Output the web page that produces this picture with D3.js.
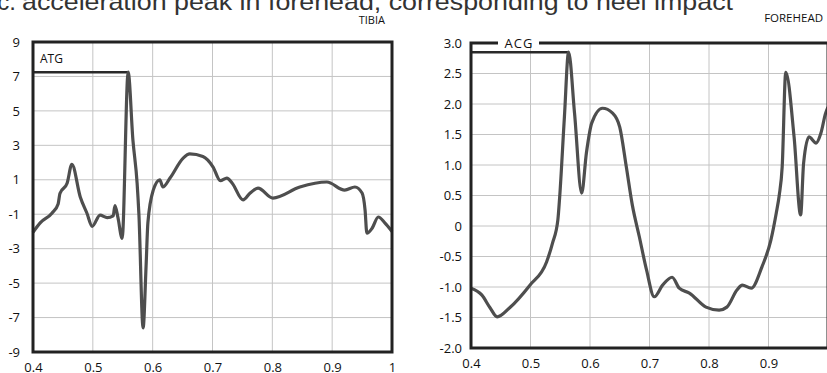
<!DOCTYPE html>
<html>
<head>
<meta charset="utf-8">
<script src="https://cdn.jsdelivr.net/npm/d3@7"></script>
<style>
  body { margin: 0; background: #fff; }
  svg { display: block; }
</style>
</head>
<body>
<div id="chart"></div>
<script>
// Tibia (ATG) trace: time and acceleration
const tibiaTime = [0.400, 0.412, 0.432, 0.442, 0.445, 0.457, 0.465, 0.479, 0.490, 0.499,
    0.512, 0.524, 0.534, 0.537, 0.542, 0.549, 0.559, 0.567, 0.574, 0.577,
    0.584, 0.589, 0.592, 0.601, 0.612, 0.617, 0.629, 0.651, 0.662, 0.684,
    0.701, 0.713, 0.724, 0.733, 0.751, 0.763, 0.776, 0.801, 0.846, 0.891,
    0.921, 0.938, 0.950, 0.955, 0.958, 0.967, 0.977, 0.988, 1.000];
const tibiaAcc = [-2.05, -1.5, -0.93, -0.4, 0.2, 0.8, 1.9, 0.0, -0.93, -1.7,
    -1.05, -1.2, -1.1, -0.5, -1.2, -2.4, 7.25, 3.3, 0.8, -1.0,
    -7.6, -4.0, -1.5, 0.4, 1.0, 0.58, 1.1, 2.26, 2.5, 2.35,
    1.74, 0.95, 1.1, 0.8, -0.17, 0.23, 0.52, -0.06, 0.58, 0.87,
    0.4, 0.58, 0.23, -0.76, -2.1, -1.8, -1.16, -1.5, -2.0];

// Forehead (ACG) trace
const foreheadTime = [0.400, 0.418, 0.432, 0.444, 0.465, 0.499, 0.527, 0.537, 0.546, 0.549,
    0.557, 0.564, 0.574, 0.586, 0.594, 0.603, 0.621, 0.638, 0.650, 0.661,
    0.671, 0.683, 0.695, 0.708, 0.722, 0.738, 0.750, 0.767, 0.795, 0.817,
    0.830, 0.847, 0.856, 0.871, 0.889, 0.904, 0.913, 0.918, 0.923, 0.929,
    0.943, 0.954, 0.959, 0.968, 0.980, 0.988, 0.996, 1.000];
const foreheadAcc = [-1.02, -1.13, -1.34, -1.49, -1.34, -0.97, -0.59, -0.28, 0.1, 0.47,
    1.79, 2.85, 1.85, 0.54, 1.2, 1.69, 1.93, 1.85, 1.62, 0.97,
    0.35, -0.18, -0.72, -1.16, -0.97, -0.84, -1.02, -1.1, -1.33, -1.38,
    -1.33, -1.05, -0.97, -1.02, -0.67, -0.23, 0.21, 0.5, 0.97, 2.52,
    1.46, 0.18, 1.03, 1.46, 1.36, 1.52, 1.85, 1.95];

// Tick labels
const xTicks = [0.4, 0.5, 0.6, 0.7, 0.8, 0.9, 1];
const tibiaTicks = [9, 7, 5, 3, 1, -1, -3, -5, -7, -9];
const foreheadTicks = [3.0, 2.5, 2.0, 1.5, 1.0, 0.5, 0, -0.5, -1.0, -1.5, -2.0];

// Peak reference markers
const tibiaPeak = { t: 0.559, v: 7.25 };
const foreheadPeak = { t: 0.564, v: 2.85 };

const svgWidth = 827;
const svgHeight = 373;

const svg = d3.select("#chart")
    .append("svg")
    .attr("width", svgWidth)
    .attr("height", svgHeight)
    .style("font-family", "'Open Sans', sans-serif");

// Title (cut off at the top in the source)
svg.append("text")
    .attr("x", 16)
    .attr("y", 10)
    .attr("text-anchor", "end")
    .attr("font-family", "'Liberation Sans', Arial, sans-serif")
    .attr("font-size", 24)
    .attr("fill", "#333")
    .text("bc.");

svg.append("text")
    .attr("x", 22)
    .attr("y", 10)
    .attr("font-family", "'Liberation Sans', Arial, sans-serif")
    .attr("font-size", 24)
    .attr("fill", "#333")
    .attr("textLength", 711)
    .attr("lengthAdjust", "spacingAndGlyphs")
    .text("acceleration peak in forehead, corresponding to heel impact");

// plain hyphen for negatives, like the source
const hyphen = s => s.replace("\u2212", "-");

function drawPanel(opts) {
    const x = d3.scaleLinear().domain([0.4, 1]).range([opts.left, opts.right]);
    const y = d3.scaleLinear().domain(opts.yDomain).range([opts.bottom, opts.top]);
    const g = svg.append("g");

    // Grid
    g.selectAll(".vgrid")
        .data(xTicks.slice(1, -1))
        .join("line")
        .attr("x1", d => x(d)).attr("x2", d => x(d))
        .attr("y1", opts.top).attr("y2", opts.bottom)
        .attr("stroke", "#c4c4c4")
        .attr("stroke-width", 1);

    g.selectAll(".hgrid")
        .data(opts.yTicks.slice(1, -1))
        .join("line")
        .attr("x1", opts.left).attr("x2", opts.right)
        .attr("y1", d => y(d)).attr("y2", d => y(d))
        .attr("stroke", "#c4c4c4")
        .attr("stroke-width", 1);

    // Axes labels
    const xAxis = d3.axisBottom(x)
        .tickValues(opts.xLabels)
        .tickFormat(d => d === 1 ? "1" : d3.format(".1f")(d))
        .tickSize(0)
        .tickPadding(0);
    g.append("g")
        .attr("transform", `translate(0, ${opts.bottom + 11})`)
        .call(xAxis)
        .call(a => a.select(".domain").remove())
        .selectAll("text")
        .attr("font-size", 13)
        .attr("fill", "#111")
        .attr("dy", "0.71em")
        .style("font-family", "'Open Sans', sans-serif");

    const yAxis = d3.axisLeft(y)
        .tickValues(opts.yTicks)
        .tickFormat(d => hyphen(opts.yFormat(d)))
        .tickSize(0)
        .tickPadding(0);
    g.append("g")
        .attr("transform", `translate(${opts.labelRight}, 0)`)
        .call(yAxis)
        .call(a => a.select(".domain").remove())
        .selectAll("text")
        .attr("font-size", 13)
        .attr("fill", "#111")
        .style("font-family", "'Open Sans', sans-serif");

    // Peak reference line
    g.append("path")
        .attr("d", `M${opts.left},${y(opts.peak.v)}H${x(opts.peak.t)}`)
        .attr("fill", "none")
        .attr("stroke", "#2a2a2a")
        .attr("stroke-width", 2.5);

    // Trace
    const pts = opts.time.map((t, i) => [t, opts.acc[i]]);
    g.append("path")
        .datum(pts)
        .attr("d", d3.line()
            .x(d => x(d[0]))
            .y(d => y(d[1]))
            .curve(d3.curveMonotoneX))
        .attr("fill", "none")
        .attr("stroke", "#4e4e4e")
        .attr("stroke-width", 3.2)
        .attr("stroke-linejoin", "round");

    return { g, x, y };
}

// Left panel: TIBIA
const tibia = drawPanel({
    left: 33, right: 392, top: 42, bottom: 352, labelRight: 20,
    yDomain: [-9, 9], yTicks: tibiaTicks, yFormat: d3.format("d"),
    xLabels: xTicks,
    time: tibiaTime, acc: tibiaAcc, peak: tibiaPeak
});

tibia.g.append("rect")
    .attr("x", 33).attr("y", 42)
    .attr("width", 359).attr("height", 310)
    .attr("fill", "none")
    .attr("stroke", "#222")
    .attr("stroke-width", 3);

tibia.g.append("text")
    .attr("x", 40).attr("y", 63)
    .attr("font-size", 12)
    .attr("fill", "#111")
    .text("ATG");

svg.append("text")
    .attr("x", 385).attr("y", 24)
    .attr("text-anchor", "end")
    .attr("font-size", 11)
    .attr("fill", "#111")
    .text("TIBIA");

// Right panel: FOREHEAD (the 1.0 edge falls outside the picture)
const forehead = drawPanel({
    left: 471, right: 828, top: 43, bottom: 348, labelRight: 462,
    yDomain: [-2, 3], yTicks: foreheadTicks,
    yFormat: d => d === 0 ? "0" : d3.format(".1f")(d),
    xLabels: xTicks.slice(0, -1),
    time: foreheadTime, acc: foreheadAcc, peak: foreheadPeak
});

// frame with a gap in the top edge for the label
forehead.g.append("path")
    .attr("d", "M498,43H471V348H828V43H539")
    .attr("fill", "none")
    .attr("stroke", "#222")
    .attr("stroke-width", 3);

forehead.g.append("text")
    .attr("x", 519).attr("y", 48)
    .attr("text-anchor", "middle")
    .attr("font-size", 13)
    .attr("letter-spacing", 1)
    .attr("fill", "#111")
    .text("ACG");

svg.append("text")
    .attr("x", 823).attr("y", 22)
    .attr("text-anchor", "end")
    .attr("font-size", 11.5)
    .attr("fill", "#111")
    .text("FOREHEAD");
</script>
</body>
</html>
